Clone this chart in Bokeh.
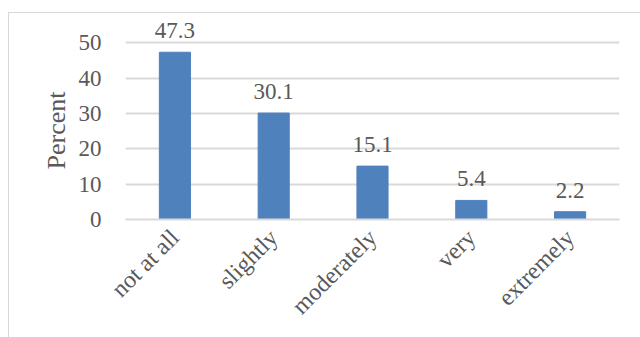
import math
from bokeh.plotting import figure
from bokeh.models import (Range1d, FixedTicker, ColumnDataSource, LabelSet,
                          LinearAxis, Title)
from bokeh.embed import file_html
from bokeh.resources import INLINE

categories = ["not at all", "slightly", "moderately", "very", "extremely"]
percents = [47.3, 30.1, 15.1, 5.4, 2.2]
y_ticks = [0, 10, 20, 30, 40, 50]

FONT = "Liberation Serif"
TXT = "#595959"

src = ColumnDataSource(dict(cat=categories, pct=percents,
                            lbl=[f"{v:.1f}" for v in percents]))

p = figure(x_range=categories, y_range=Range1d(0, 56),
           width=632, height=325, output_backend="svg", toolbar_location=None,
           min_border_left=116, min_border_right=22, min_border_top=8,
           min_border_bottom=119)
p.styles = {"position": "absolute", "left": "8px", "top": "12px",
            "border-left": "1px solid #d9d9d9", "border-top": "1px solid #d9d9d9"}

p.vbar(x="cat", top="pct", width=0.315, source=src, color="#4f81bd")
p.add_layout(LabelSet(x="cat", y="pct", text="lbl", source=src,
                      text_align="center", text_baseline="bottom", y_offset=14,
                      text_font=FONT, text_font_size="23px", text_color=TXT))

p.outline_line_color = None
p.xgrid.grid_line_color = None
p.ygrid.grid_line_color = "#d9d9d9"
p.ygrid.grid_line_width = 2
p.yaxis.ticker = FixedTicker(ticks=y_ticks)
p.yaxis.axis_line_color = None
p.yaxis.major_tick_line_color = None
p.yaxis.minor_tick_line_color = None
p.yaxis.major_label_standoff = 18
p.yaxis.major_label_text_font = FONT
p.yaxis.major_label_text_font_size = "23px"
p.yaxis.major_label_text_color = TXT

p.add_layout(Title(text="Percent", align="left", offset=50,
                   text_font=FONT, text_font_size="26px",
                   text_font_style="normal", text_color=TXT), "left")

p.xaxis.axis_line_color = "#d9d9d9"
p.xaxis.axis_line_width = 2
p.xaxis.major_tick_line_color = None
p.xaxis.minor_tick_line_color = None
p.xaxis.major_label_orientation = math.pi / 4
p.xaxis.major_label_standoff = 8
p.xaxis.major_label_text_font = FONT
p.xaxis.major_label_text_font_size = "24px"
p.xaxis.major_label_text_color = TXT
p.x_range.range_padding = 0

open("out.html", "w").write(file_html(p, INLINE))
